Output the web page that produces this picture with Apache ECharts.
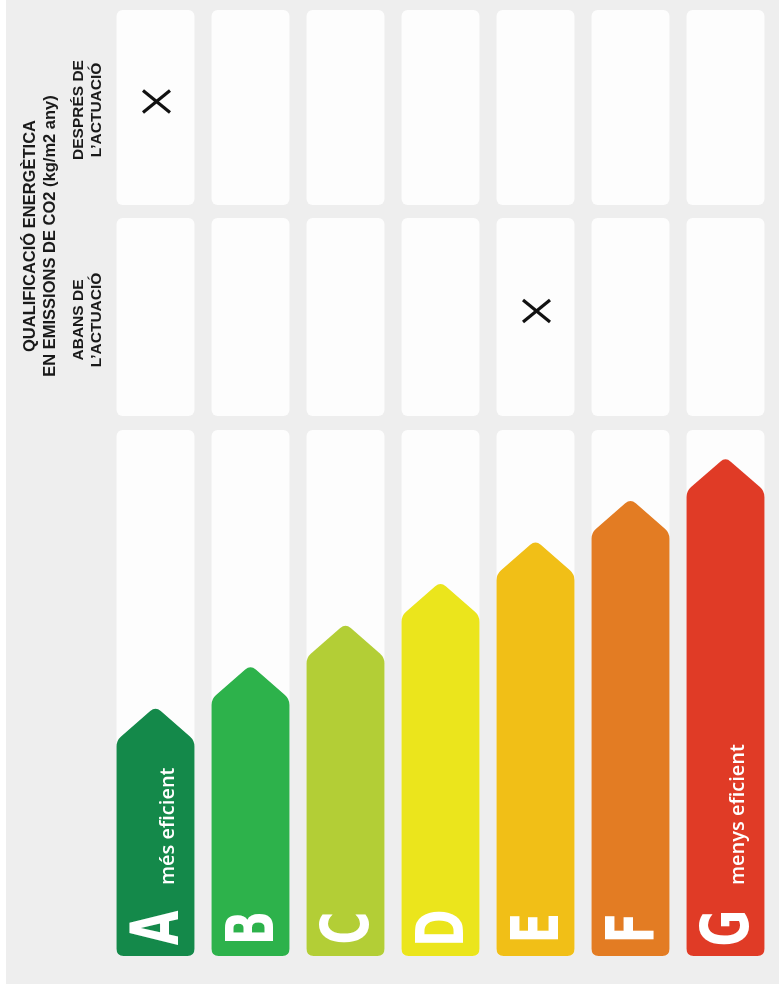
<!DOCTYPE html>
<html>
<head>
<meta charset="utf-8">
<script src="https://cdn.jsdelivr.net/npm/echarts@6/dist/echarts.min.js"></script>
<style>html,body{margin:0;padding:0;background:#fff}#c{width:783px;height:990px}</style>
</head>
<body>
<div id="c"></div>
<script>
// ---- data ----
var classes = ['A', 'B', 'C', 'D', 'E', 'F', 'G'];
var arrowLength = [6, 7, 8, 9, 10, 11, 12];
var classColors = ['#14894a', '#2db24b', '#b3ce36', '#ebe51c', '#f1bf17', '#e37c23', '#e03b26'];
var classNotes = ['més eficient', '', '', '', '', '', 'menys eficient'];
var abansClass = ['E'];
var despresClass = ['A'];
var titleText = 'QUALIFICACIÓ ENERGÈTICA\nEN EMISSIONS DE CO2 (kg/m2 any)';
var abansLabel = 'ABANS DE\nL\u2019ACTUACIÓ';
var despresLabel = 'DESPRÉS DE\nL\u2019ACTUACIÓ';

// ---- layout ----
var GL = 108, GR = 10;
var grids = [
  {left: GL, right: GR, top: 430, bottom: 34},   // arrows
  {left: GL, right: GR, top: 218, height: 198},  // abans
  {left: GL, right: GR, top: 10, height: 195}    // despres
];

function roundPath(pts, radii) {
  var n = pts.length, d = '';
  for (var i = 0; i < n; i++) {
    var p0 = pts[(i - 1 + n) % n], p1 = pts[i], p2 = pts[(i + 1) % n];
    var r = radii[i];
    var d1 = Math.hypot(p0[0] - p1[0], p0[1] - p1[1]);
    var d2 = Math.hypot(p2[0] - p1[0], p2[1] - p1[1]);
    var l1 = Math.min(r, d1 / 2), l2 = Math.min(r, d2 / 2);
    var a = [p1[0] + (p0[0] - p1[0]) / d1 * l1, p1[1] + (p0[1] - p1[1]) / d1 * l1];
    var b = [p1[0] + (p2[0] - p1[0]) / d2 * l2, p1[1] + (p2[1] - p1[1]) / d2 * l2];
    d += (i === 0 ? 'M' : 'L') + a[0] + ',' + a[1] + 'Q' + p1[0] + ',' + p1[1] + ' ' + b[0] + ',' + b[1];
  }
  return d + 'Z';
}

var BAR_FRAC = 0.82;

function panelItem(params, api) {
  var cs = params.coordSys;
  var c = api.coord([api.value(0), 0]);
  var bw = api.size([1, 0])[0] * BAR_FRAC;
  return {
    type: 'rect',
    shape: {x: c[0] - bw / 2, y: cs.y, width: bw, height: cs.height, r: 6},
    style: {fill: '#fdfdfd'}
  };
}

function arrowItem(params, api) {
  var idx = api.value(0);
  var top = api.coord([idx, api.value(1)]);
  var base = api.coord([idx, 0]);
  var bw = api.size([1, 0])[0] * BAR_FRAC;
  var x0 = top[0] - bw / 2, x1 = top[0] + bw / 2, xc = top[0];
  var yt = top[1], ys = yt + 34, yb = base[1];
  var d = roundPath([[x0, yb], [x0, ys], [xc, yt], [x1, ys], [x1, yb]], [7, 6, 7, 6, 7]);
  var children = [
    {type: 'path', shape: {pathData: d}, style: {fill: classColors[idx]}},
    {type: 'text', x: xc + 5, y: yb - 28, rotation: Math.PI / 2, scaleX: 0.68,
     style: {text: classes[idx], fill: '#ffffff', fontSize: 66, fontWeight: 'bold',
             fontFamily: 'DejaVu Sans', align: 'center', verticalAlign: 'middle'}}
  ];
  if (classNotes[idx]) {
    children.push({type: 'text', x: xc + 13, y: yb - 71, rotation: Math.PI / 2,
      style: {text: classNotes[idx], fill: '#ffffff', fontSize: 20, fontWeight: 600,
              fontFamily: 'Open Sans', align: 'left', verticalAlign: 'middle'}});
  }
  return {type: 'group', children: children};
}

function markItem(params, api) {
  var cs = params.coordSys;
  var c = api.coord([api.value(0), 0]);
  var cx = c[0] + 1, cy = cs.y + cs.height / 2 - 6;
  var hw = 13.5, hh = 11;
  return {
    type: 'group',
    children: [
      {type: 'line', shape: {x1: cx - hw, y1: cy - hh, x2: cx + hw, y2: cy + hh}, style: {stroke: '#111', lineWidth: 3.2}},
      {type: 'line', shape: {x1: cx - hw, y1: cy + hh, x2: cx + hw, y2: cy - hh}, style: {stroke: '#111', lineWidth: 3.2}}
    ]
  };
}

var xAxes = [], yAxes = [];
for (var g = 0; g < 3; g++) {
  xAxes.push({type: 'category', gridIndex: g, data: classes, show: false, boundaryGap: true});
  yAxes.push({type: 'value', gridIndex: g, min: 0, max: g === 0 ? 12.65 : 1, show: false});
}

var panelData = classes.map(function (c, i) { return [i]; });
var series = [];
for (var g2 = 0; g2 < 3; g2++) {
  series.push({type: 'custom', xAxisIndex: g2, yAxisIndex: g2, renderItem: panelItem,
               data: panelData, encode: {x: 0}, silent: true, z: 1});
}
series.push({type: 'custom', xAxisIndex: 0, yAxisIndex: 0, renderItem: arrowItem,
             data: classes.map(function (c, i) { return [i, arrowLength[i]]; }),
             encode: {x: 0, y: 1}, z: 3});
series.push({type: 'custom', xAxisIndex: 1, yAxisIndex: 1, renderItem: markItem,
             data: abansClass.map(function (c) { return [classes.indexOf(c)]; }), encode: {x: 0}, z: 3});
series.push({type: 'custom', xAxisIndex: 2, yAxisIndex: 2, renderItem: markItem,
             data: despresClass.map(function (c) { return [classes.indexOf(c)]; }), encode: {x: 0}, z: 3});

var chart = echarts.init(document.getElementById('c'), null, {renderer: 'canvas'});
chart.setOption({
  backgroundColor: '#ffffff',
  animation: false,
  grid: grids,
  xAxis: xAxes,
  yAxis: yAxes,
  graphic: [
    {type: 'rect', z: -10, shape: {x: 6, y: 0, width: 773, height: 984}, style: {fill: '#eeeeee'}},
    {type: 'text', x: 40, y: 236, rotation: Math.PI / 2,
     style: {text: titleText, fill: '#1a1a1a', fontSize: 16.5, fontWeight: 'bold', fontFamily: 'Liberation Sans',
             align: 'center', verticalAlign: 'middle', lineHeight: 20}},
    {type: 'text', x: 88, y: 320, rotation: Math.PI / 2,
     style: {text: abansLabel, fill: '#1a1a1a', fontSize: 15.5, fontWeight: 'bold', fontFamily: 'Liberation Sans',
             align: 'center', verticalAlign: 'middle', lineHeight: 18}},
    {type: 'text', x: 88, y: 110, rotation: Math.PI / 2,
     style: {text: despresLabel, fill: '#1a1a1a', fontSize: 15.5, fontWeight: 'bold', fontFamily: 'Liberation Sans',
             align: 'center', verticalAlign: 'middle', lineHeight: 18}}
  ],
  series: series
});
</script>
</body>
</html>
